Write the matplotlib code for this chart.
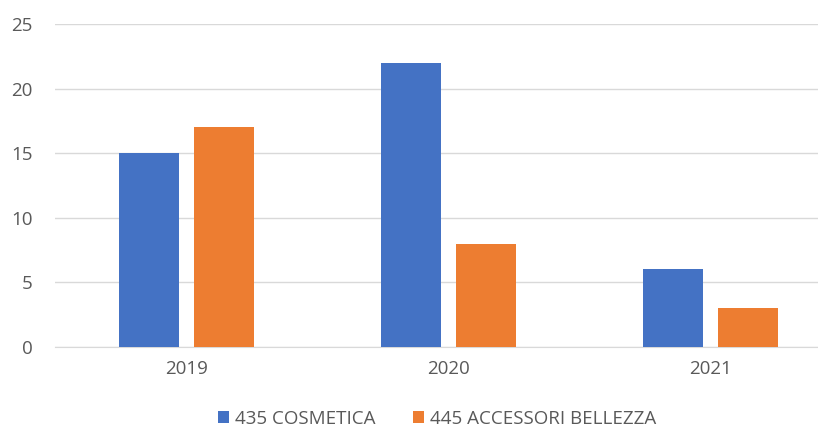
import matplotlib
matplotlib.use("Agg")
import matplotlib.pyplot as plt
import numpy as np

categories = ["2019", "2020", "2021"]
series_names = ["435 COSMETICA", "445 ACCESSORI BELLEZZA"]
cosmetica = [15, 22, 6]
accessori = [17, 8, 3]
yticks = [0, 5, 10, 15, 20, 25]

plt.rcParams['font.family'] = ['Open Sans', 'DejaVu Sans']

fig = plt.figure(figsize=(8.18, 4.30), dpi=100)
ax = fig.add_axes([55/818, 83/430, 787/818, 323/430])

x = np.arange(len(categories))
w = 0.229
off = 0.143
ax.bar(x - off, cosmetica, w, color="#4472C4", label=series_names[0], zorder=3)
ax.bar(x + off, accessori, w, color="#ED7D31", label=series_names[1], zorder=3)

ax.set_xlim(-0.5, 2.5)
ax.set_ylim(0, 25)
ax.set_yticks(yticks)
ax.set_xticks(x)
ax.set_xticklabels(categories)
ax.grid(axis='y', color="#D9D9D9", linewidth=1, zorder=0)
for s in ["top", "right", "left"]:
    ax.spines[s].set_visible(False)
ax.spines["bottom"].set_color("#D9D9D9")
ax.tick_params(axis='both', length=0, colors="#595959", labelsize=13.5)
ax.tick_params(axis='x', pad=9)
ax.tick_params(axis='y', pad=16)

leg = fig.legend(loc="center", bbox_to_anchor=(437/818, 1 - 419/430), ncol=2,
                 frameon=False, fontsize=13.5, handlelength=0.6, handleheight=0.6,
                 handletextpad=0.3, columnspacing=2.0)
for t in leg.get_texts():
    t.set_color("#595959")

fig.savefig("out.png", dpi=100)
